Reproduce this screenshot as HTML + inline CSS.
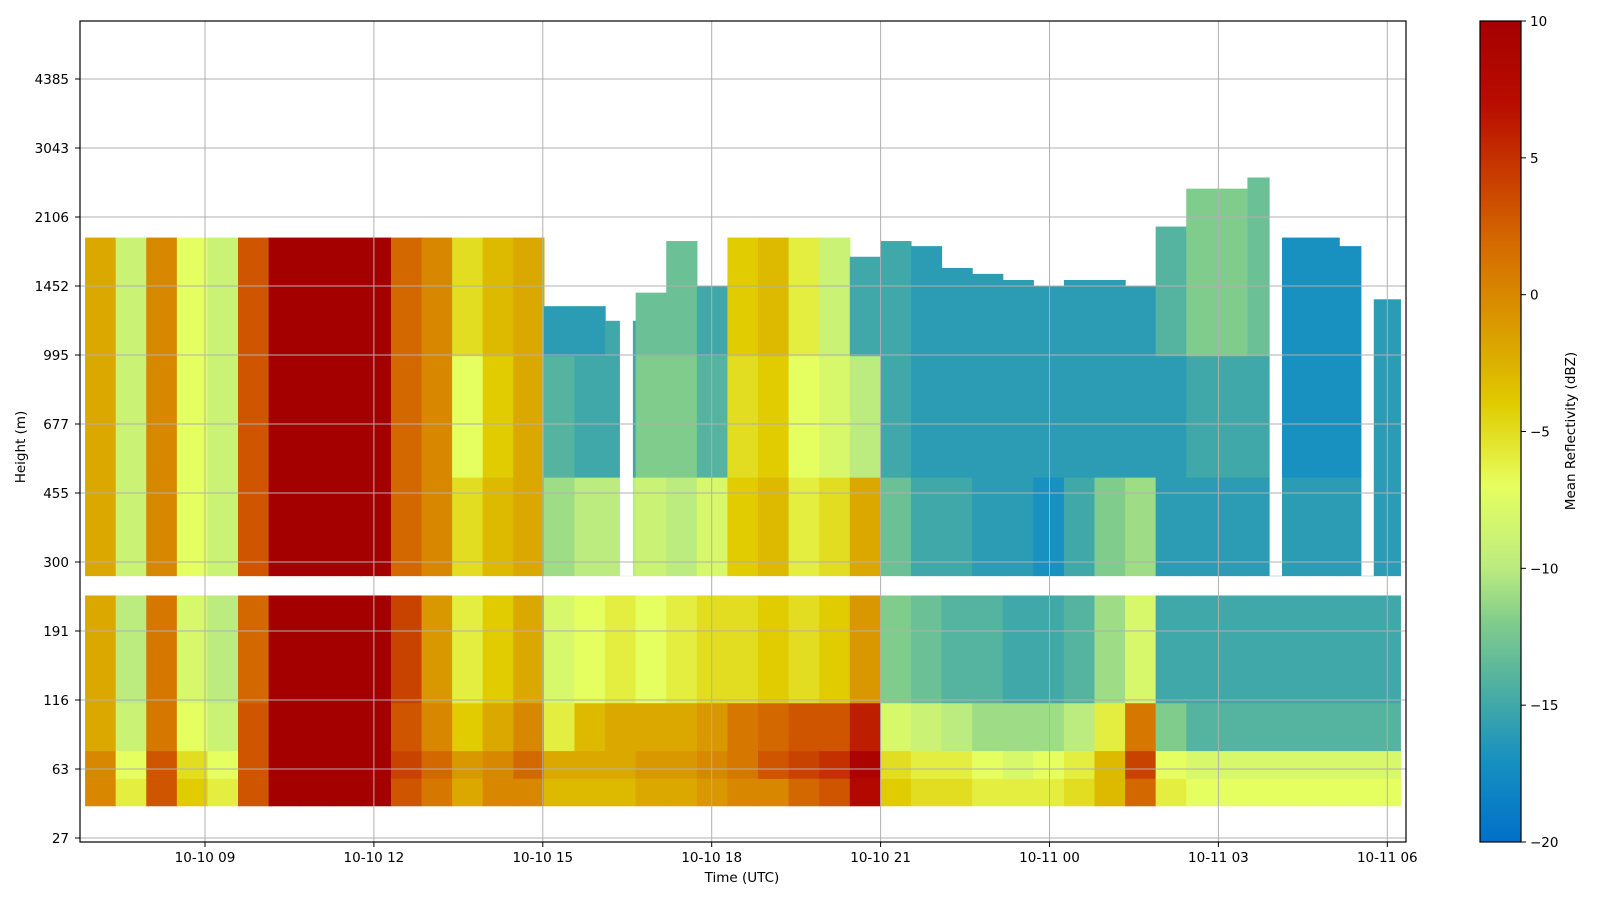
<!DOCTYPE html>
<html><head><meta charset="utf-8"><style>
html,body{margin:0;padding:0;background:#fff;overflow:hidden}
svg{display:block;font-family:"DejaVu Sans","Liberation Sans",sans-serif}
</style></head><body>
<svg id="chart" width="1600" height="900" viewBox="0 0 1600 900">
<defs>
<linearGradient id="cbg" x1="0" y1="1" x2="0" y2="0"></linearGradient>
<clipPath id="plotclip"><rect x="80" y="21" width="1326" height="821"/></clipPath>
</defs>
<g id="cells" clip-path="url(#plotclip)"></g>
<g id="grid"></g>
<rect x="80" y="21" width="1326" height="821" fill="none" stroke="#000" stroke-width="1.2"/>
<g id="xticks"></g>
<g id="yticks"></g>
<text x="742" y="882" font-size="13.5" text-anchor="middle">Time (UTC)</text>
<text x="25" y="447" font-size="13.5" text-anchor="middle" transform="rotate(-90 25 447)">Height (m)</text>
<rect x="1480" y="21" width="41" height="821" fill="url(#cbg)" stroke="#000" stroke-width="1.2"/>
<g id="cbticks"></g>
<text x="1575" y="431" font-size="13.5" text-anchor="middle" transform="rotate(-90 1575 431)">Mean Reflectivity (dBZ)</text>
</svg>
<script>
// ---- data ----
const yTickHeights = [4385, 3043, 2106, 1452, 995, 677, 455, 300, 191, 116, 63, 27];
const xTickHours = [9, 12, 15, 18, 21, 24, 27, 30];
const xTickLabels = ["10-10 09", "10-10 12", "10-10 15", "10-10 18", "10-10 21", "10-11 00", "10-11 03", "10-11 06"];
const cbTicks = [10, 5, 0, -5, -10, -15, -20];
const colStartHour = 6.87;
const colStepHours = 0.5433;
// band boundaries (m): lower block and upper block
const lowerBounds = [40, 56, 74, 113, 241];
const upperBounds = [274, 498, 990];
const band0 = [0,-6,3,-4,-6,3,10,10,10,10,3,1,-2,0,0,-3,-3,-3,-2,-2,-1,0,0,2,3,8,-4,-5,-5,-6,-6,-6,-5,-3,2,-6,-7,-7,-7,-7,-7,-7,-7];
const band1 = [0,-7,3,-5,-7,3,10,10,10,10,4,2,-1,0,2,-2,-2,-2,-1,-1,0,1,3,4,5,9,-5,-6,-6,-7,-8,-7,-6,-3,4,-7,-8,-8,-8,-8,-8,-8,-8];
const band2 = [-2,-9,1,-7,-9,3,10,10,10,10,3,0,-4,-2,0,-6,-3,-2,-2,-2,-1,1,2,3,3,6,-8,-9,-10,-11,-11,-11,-10,-6,1,-12,-14,-14,-14,-14,-14,-14,-14];
const band3 = [-2,-10,1,-8,-10,2,10,10,10,10,4,-1,-6,-4,-2,-8,-7,-6,-7,-6,-5,-5,-4,-5,-4,-1,-12,-13,-14,-14,-15,-15,-14,-11,-8,-15,-15,-15,-15,-15,-15,-15,-15];
const band4 = [-2,-9,0,-7,-9,3,10,10,10,10,2,0,-5,-3,-2,-11,-10,-10,-9,-10,-8,-4,-3,-6,-5,-2,-13,-15,-15,-16,-16,-17,-15,-12,-11,-16,-16,-16,-16,-16,-16,-16,-16];
const band5 = [-2,-9,0,-7,-9,3,10,10,10,10,2,0,-7,-4,-2,-14,-15,-15,-12,-12,-14,-5,-4,-7,-8,-10,-15,-16,-16,-16,-16,-16,-16,-16,-16,-16,-15,-15,-15,-17,-17,-17,-16];
const band6 = [-2,-9,0,-7,-9,3,10,10,10,10,2,0,-5,-3,-2,-16,-16,-15,-13,-13,-15,-4,-3,-6,-9,-15,-15,-16,-16,-16,-16,-16,-16,-16,-16,-14,-12,-12,-13,-17,-17,-17,-16];
const topHeights = [1885,1885,1885,1885,1885,1885,1885,1885,1885,1885,1885,1885,1885,1885,1885,1300,1300,1200,1400,1850,1450,1885,1885,1885,1885,1700,1850,1800,1600,1550,1500,1450,1500,1500,1450,2000,2450,2450,2600,1885,1885,1800,1350];
const upperGapStart = [16.37, 27.91, 29.54];
const upperGapEnd = [16.60, 28.13, 29.76];
const cmapVals = [-20,-17,-15,-12,-10,-7,-4,-2.5,0,2,5,7,10];
const cmapCols = ["#0070c8","#1890c0","#40a8a8","#80cc8c","#bceb80","#e6ff60","#e0cc00","#dcb000","#d88800","#d46800","#c43000","#b80c00","#a50000"];

// ---- scales ----
const NS="http://www.w3.org/2000/svg";
function xScale(h){ return 205 + (h-9)*56.3; }
const tickY = yTickHeights.map((h,i)=>79 + i*69.0);
function yScale(m){
  const H=yTickHeights;
  for(let i=0;i<H.length-1;i++){
    if(m<=H[i] && m>=H[i+1]){ const f=(Math.log(H[i])-Math.log(m))/(Math.log(H[i])-Math.log(H[i+1])); return tickY[i]+f*(tickY[i+1]-tickY[i]); }
  }
  if(m>H[0]) return tickY[0]-(Math.log(m)-Math.log(H[0]))/(Math.log(H[0])-Math.log(H[1]))*69.0;
  return tickY[H.length-1]+(Math.log(H[H.length-1])-Math.log(m))/(Math.log(H[H.length-2])-Math.log(H[H.length-1]))*69.0;
}
function hex(c){return [1,3,5].map(i=>parseInt(c.substr(i,2),16));}
function color(v){
  if(v<=cmapVals[0]) return cmapCols[0];
  for(let i=0;i<cmapVals.length-1;i++){
    if(v<=cmapVals[i+1]){ const f=(v-cmapVals[i])/(cmapVals[i+1]-cmapVals[i]); const a=hex(cmapCols[i]),b=hex(cmapCols[i+1]);
      return "rgb("+a.map((x,k)=>Math.round(x+(b[k]-x)*f)).join(",")+")"; }
  }
  return cmapCols[cmapCols.length-1];
}
function mk(tag,attrs,parent){const e=document.createElementNS(NS,tag);for(const k in attrs)e.setAttribute(k,attrs[k]);parent.appendChild(e);return e;}

// ---- heatmap ----
const cells=document.getElementById('cells');
const bands=[band0,band1,band2,band3,band4,band5,band6];
for(let c=0;c<band0.length;c++){
  const x0=xScale(colStartHour+c*colStepHours), x1=xScale(colStartHour+(c+1)*colStepHours);
  const bounds=[];
  for(let i=0;i<lowerBounds.length-1;i++) bounds.push([lowerBounds[i],lowerBounds[i+1]]);
  bounds.push([upperBounds[0],upperBounds[1]],[upperBounds[1],upperBounds[2]],[upperBounds[2],topHeights[c]]);
  for(let b=0;b<7;b++){
    const lo=bounds[b][0], hi=Math.min(bounds[b][1],topHeights[c]);
    if(hi<=lo) continue;
    const yt=yScale(hi), yb=yScale(lo);
    const r=mk('rect',{x:x0.toFixed(2),y:yt.toFixed(2),width:(x1-x0+0.6).toFixed(2),height:(yb-yt+0.3).toFixed(2),fill:color(bands[b][c])},cells);
    
    
  }
}
for(let g=0;g<upperGapStart.length;g++){
  const x0=xScale(upperGapStart[g]), x1=xScale(upperGapEnd[g]);
  const yt=yScale(3000), yb=yScale(upperBounds[0]);
  const r=mk('rect',{x:x0,y:yt,width:x1-x0,height:yb-yt,fill:"#fff"},cells);
  
  
}

// ---- grid & ticks ----
const grid=document.getElementById('grid'), xt=document.getElementById('xticks'), yt=document.getElementById('yticks');
xTickHours.forEach((h,i)=>{
  const x=xScale(h);
  const l=mk('line',{x1:x,x2:x,y1:21,y2:842,stroke:"#b0b0b0","stroke-width":1},grid);
  
  
  mk('line',{x1:x,x2:x,y1:842,y2:847,stroke:"#000"},xt);
  const t=mk('text',{x:x,y:862,"font-size":13.5,"text-anchor":"middle"},xt);
  t.textContent=xTickLabels[i];
  
  
});
yTickHeights.forEach((h,i)=>{
  const y=yScale(h);
  const l=mk('line',{x1:80,x2:1406,y1:y,y2:y,stroke:"#b0b0b0","stroke-width":1},grid);
  
  
  mk('line',{x1:75,x2:80,y1:y,y2:y,stroke:"#000"},yt);
  const t=mk('text',{x:69,y:y+5,"font-size":13.5,"text-anchor":"end"},yt);
  t.textContent=String(h);
  
  
});

// ---- colorbar ----
const grad=document.getElementById('cbg');
cmapVals.forEach((v,i)=>{ mk('stop',{offset:((v+20)/30*100).toFixed(2)+"%","stop-color":cmapCols[i]},grad); });
const cbt=document.getElementById('cbticks');
cbTicks.forEach(v=>{
  const y=842-(v+20)/30*821;
  mk('line',{x1:1521,x2:1526,y1:y,y2:y,stroke:"#000"},cbt);
  const t=mk('text',{x:1530,y:y+5,"font-size":13.5},cbt);
  t.textContent=(v<0?"\u2212"+(-v):String(v));
  
  
});
</script>
</body></html>
